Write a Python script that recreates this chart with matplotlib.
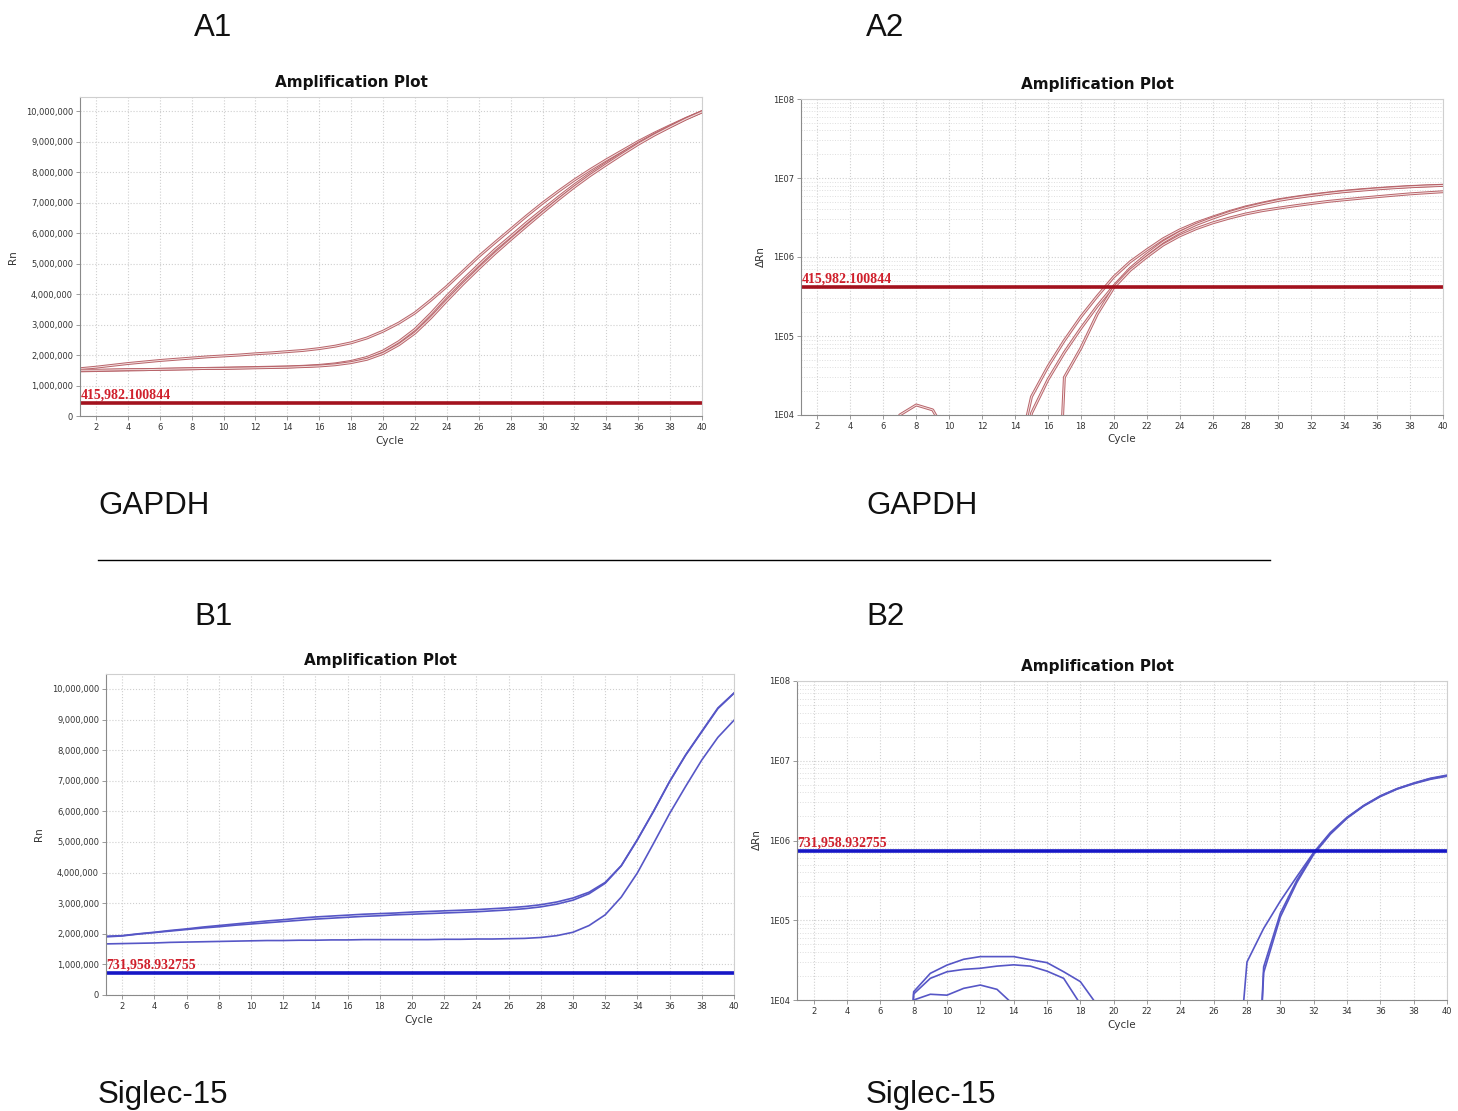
import matplotlib
matplotlib.use("Agg")
import matplotlib.pyplot as plt
import matplotlib.patheffects as pe
from matplotlib.lines import Line2D
from matplotlib.ticker import FuncFormatter, LogLocator, FixedLocator
import numpy as np

W, H = 1458, 1111

cycles = list(range(1, 41))

# GAPDH, Rn (millions)
a1_rn_1 = [1.55, 1.60, 1.66, 1.72, 1.77, 1.82, 1.86, 1.90, 1.94, 1.97,
           2.00, 2.04, 2.07, 2.11, 2.15, 2.21, 2.29, 2.40, 2.56, 2.78,
           3.05, 3.38, 3.80, 4.25, 4.74, 5.23, 5.68, 6.12, 6.56, 6.98,
           7.37, 7.74, 8.08, 8.40, 8.70, 9.00, 9.27, 9.52, 9.76, 9.98]
a1_rn_2 = [1.48, 1.49, 1.50, 1.51, 1.52, 1.53, 1.54, 1.55, 1.56, 1.57,
           1.58, 1.59, 1.60, 1.61, 1.63, 1.66, 1.71, 1.79, 1.92, 2.13,
           2.44, 2.84, 3.36, 3.93, 4.46, 4.96, 5.45, 5.89, 6.34, 6.76,
           7.18, 7.58, 7.95, 8.29, 8.62, 8.94, 9.23, 9.49, 9.75, 9.98]
a1_rn_3 = [1.50, 1.50, 1.51, 1.52, 1.52, 1.53, 1.54, 1.55, 1.56, 1.56,
           1.57, 1.58, 1.59, 1.60, 1.62, 1.64, 1.68, 1.75, 1.86, 2.05,
           2.34, 2.72, 3.22, 3.78, 4.32, 4.83, 5.32, 5.78, 6.23, 6.67,
           7.10, 7.51, 7.89, 8.24, 8.58, 8.91, 9.21, 9.48, 9.74, 9.97]

# GAPDH, delta Rn (values below 1E04 fall outside the plot)
a2_drn_1 = [1, 1, 1, 1, 1, 1, 1, 1, 1, 1,
            1, 1, 1, 2e3, 17e3, 41e3, 88e3, 175e3, 320e3, 560e3,
            870e3, 1.23e6, 1.7e6, 2.2e6, 2.7e6, 3.2e6, 3.75e6, 4.3e6, 4.8e6, 5.3e6,
            5.7e6, 6.1e6, 6.45e6, 6.8e6, 7.1e6, 7.35e6, 7.6e6, 7.8e6, 7.95e6, 8.1e6]
a2_drn_2 = [1, 1, 1, 1, 1, 1, 1, 1, 1, 1,
            1, 1, 1, 500, 10.5e3, 28e3, 62e3, 125e3, 240e3, 430e3,
            720e3, 1.08e6, 1.55e6, 2.05e6, 2.58e6, 3.1e6, 3.65e6, 4.2e6, 4.7e6, 5.2e6,
            5.62e6, 6.0e6, 6.38e6, 6.72e6, 7.0e6, 7.28e6, 7.52e6, 7.74e6, 7.92e6, 8.05e6]
a2_drn_3 = [1, 1, 1, 1, 1, 3e3, 1.0e4, 1.34e4, 1.16e4, 5e3,
            1, 1, 1, 1, 1, 1, 30e3, 70e3, 190e3, 410e3,
            680e3, 1.0e6, 1.42e6, 1.85e6, 2.28e6, 2.7e6, 3.1e6, 3.5e6, 3.85e6, 4.15e6,
            4.45e6, 4.75e6, 5.05e6, 5.3e6, 5.55e6, 5.8e6, 6.05e6, 6.3e6, 6.5e6, 6.7e6]

# Siglec-15, Rn (millions)
b1_rn_1 = [1.92, 1.94, 2.00, 2.05, 2.11, 2.16, 2.22, 2.27, 2.32, 2.37,
           2.42, 2.46, 2.51, 2.55, 2.58, 2.61, 2.64, 2.66, 2.68, 2.71,
           2.73, 2.75, 2.77, 2.79, 2.82, 2.85, 2.89, 2.95, 3.04, 3.17,
           3.36, 3.68, 4.23, 5.08, 6.00, 6.98, 7.85, 8.62, 9.38, 9.87]
b1_rn_2 = [1.90, 1.93, 1.99, 2.04, 2.09, 2.14, 2.19, 2.23, 2.28, 2.32,
           2.36, 2.40, 2.44, 2.48, 2.51, 2.54, 2.57, 2.59, 2.62, 2.64,
           2.66, 2.68, 2.70, 2.72, 2.75, 2.78, 2.82, 2.88, 2.97, 3.10,
           3.31, 3.65, 4.22, 5.07, 6.00, 6.97, 7.84, 8.60, 9.36, 9.86]
b1_rn_3 = [1.67, 1.68, 1.69, 1.70, 1.72, 1.73, 1.74, 1.75, 1.76, 1.77,
           1.78, 1.78, 1.79, 1.79, 1.80, 1.80, 1.81, 1.81, 1.81, 1.81,
           1.81, 1.82, 1.82, 1.83, 1.83, 1.84, 1.85, 1.88, 1.94, 2.05,
           2.27, 2.62, 3.20, 3.99, 4.95, 5.93, 6.82, 7.68, 8.42, 8.98]

# Siglec-15, delta Rn
b2_drn_1 = [1, 1, 1, 1, 1, 1, 1, 12.7e3, 21.6e3, 27.4e3,
            32.4e3, 35e3, 35e3, 35e3, 32e3, 29.4e3, 22.6e3, 17e3, 8.7e3, 1,
            1, 1, 1, 1, 1, 1, 100, 30e3, 79e3, 174e3,
            355e3, 708e3, 1.26e6, 1.95e6, 2.75e6, 3.63e6, 4.47e6, 5.25e6, 6.03e6, 6.6e6]
b2_drn_2 = [1, 1, 1, 1, 1, 1, 1, 11.9e3, 18.7e3, 22.6e3,
            24.2e3, 25e3, 26.6e3, 27.6e3, 26.6e3, 23e3, 18.7e3, 8.9e3, 1, 1,
            1, 1, 1, 1, 1, 1, 1, 1, 26e3, 122e3,
            320e3, 690e3, 1.22e6, 1.93e6, 2.72e6, 3.6e6, 4.45e6, 5.2e6, 5.95e6, 6.5e6]
b2_drn_3 = [1, 1, 1, 1, 1, 1, 1, 1.0e4, 11.8e3, 11.5e3,
            14e3, 15.4e3, 13.6e3, 8.7e3, 1, 1, 1, 1, 1, 1,
            1, 1, 1, 1, 1, 1, 1, 1, 22e3, 110e3,
            300e3, 670e3, 1.2e6, 1.9e6, 2.7e6, 3.55e6, 4.4e6, 5.15e6, 5.85e6, 6.4e6]

thr_gapdh = 415982.100844
thr_siglec = 731958.932755

red_line = '#b8646a'
red_thr = '#a3121e'
blue_line = '#5656c6'
blue_thr = '#1616c6'
label_red = '#d0202c'


def box(left, top, right, bottom):
    return [left / W, 1 - bottom / H, (right - left) / W, (bottom - top) / H]


def fpos(x, y):
    return x / W, 1 - y / H


def style_axes(ax, log=False):
    ax.set_xlim(1, 40)
    ax.set_xticks(range(2, 41, 2))
    for s in ['left', 'bottom']:
        ax.spines[s].set_color('#8a8a8a')
    for s in ['top', 'right']:
        ax.spines[s].set_color('#cfcfcf')
    ax.tick_params(axis='both', labelsize=6, colors='#8a8a8a', labelcolor='#333333',
                   length=3, width=0.6, pad=2)
    ax.tick_params(axis='both', which='minor', length=0)
    ax.grid(True, which='major', linestyle=':', color='#cfcfcf', linewidth=0.8)
    if log:
        ax.set_yscale('log')
        ax.set_ylim(1e4, 1e8)
        ax.yaxis.set_major_locator(FixedLocator([1e4, 1e5, 1e6, 1e7, 1e8]))
        ax.yaxis.set_minor_locator(LogLocator(base=10, subs=np.arange(2, 10)))
        ax.yaxis.set_major_formatter(FuncFormatter(lambda v, p: '1E%02d' % round(np.log10(v))))
        ax.grid(True, which='minor', axis='y', linestyle=':', color='#dedede', linewidth=0.7)
    else:
        ax.set_yticks(np.arange(0, 10.01e6, 1e6))
        ax.yaxis.set_major_formatter(FuncFormatter(lambda v, p: '{:,.0f}'.format(v)))


def red_curve(ax, x, y):
    ax.plot(x, y, color='#f4e2e2', linewidth=0.7,
            path_effects=[pe.Stroke(linewidth=2.1, foreground=red_line), pe.Normal()])


def thr_label(ax, value, factor):
    ax.text(1.03, value * factor, '{:,.6f}'.format(value), color=label_red,
            family='Liberation Serif', fontweight='bold', fontsize=10, va='bottom')


fig = plt.figure(figsize=(W / 100, H / 100), dpi=100)

panels = [
    ('A1', box(80, 97, 702, 416), False, (351, 82), (390, 441), 'Rn', (13, 257)),
    ('A2', box(801, 99, 1443, 415), True, (1097, 84), (1122, 439), 'ΔRn', (761, 257)),
    ('B1', box(106, 674, 734, 995), False, (380, 660), (419, 1020), 'Rn', (39, 834)),
    ('B2', box(797, 681, 1447, 1000), True, (1097, 666), (1122, 1025), 'ΔRn', (757, 840)),
]

axes = {}
for name, rect, log, tpos, xlpos, ylab, ylpos in panels:
    ax = fig.add_axes(rect)
    style_axes(ax, log)
    axes[name] = ax
    fig.text(*fpos(*tpos), 'Amplification Plot', ha='center', va='center',
             fontsize=11, fontweight='bold', color='#111111')
    fig.text(*fpos(*xlpos), 'Cycle', ha='center', va='center', fontsize=7.5, color='#333333')
    fig.text(*fpos(*ylpos), ylab, ha='center', va='center', rotation=90,
             fontsize=7.5, color='#333333')

# A1
ax = axes['A1']
ax.set_ylim(0, 10.46e6)
for s in [a1_rn_1, a1_rn_2, a1_rn_3]:
    red_curve(ax, cycles, np.array(s) * 1e6)
ax.axhline(thr_gapdh, color=red_thr, linewidth=2.6)
thr_label(ax, thr_gapdh, 1.15)

# A2
ax = axes['A2']
for s in [a2_drn_1, a2_drn_2, a2_drn_3]:
    red_curve(ax, cycles, s)
ax.axhline(thr_gapdh, color=red_thr, linewidth=2.6)
thr_label(ax, thr_gapdh, 1.05)

# B1
ax = axes['B1']
ax.set_ylim(0, 10.49e6)
for s in [b1_rn_1, b1_rn_2, b1_rn_3]:
    ax.plot(cycles, np.array(s) * 1e6, color=blue_line, linewidth=1.2)
ax.axhline(thr_siglec, color=blue_thr, linewidth=2.6)
thr_label(ax, thr_siglec, 1.07)

# B2
ax = axes['B2']
for s in [b2_drn_1, b2_drn_2, b2_drn_3]:
    ax.plot(cycles, s, color=blue_line, linewidth=1.2)
ax.axhline(thr_siglec, color=blue_thr, linewidth=2.6)
thr_label(ax, thr_siglec, 1.05)

# panel captions
captions = [('A1', 194, 28), ('A2', 866, 28), ('GAPDH', 98, 506), ('GAPDH', 866, 506),
            ('B1', 194, 617), ('B2', 866, 617), ('Siglec-15', 98, 1095), ('Siglec-15', 866, 1095)]
for txt, x, y in captions:
    fig.text(*fpos(x, y), txt, ha='left', va='center', fontsize=22.5,
             family='Liberation Sans', color='#111111')

x0, y0 = fpos(98, 560)
x1, _ = fpos(1270, 560)
fig.add_artist(Line2D([x0, x1], [y0, y0], color='black', linewidth=1))

fig.savefig('out.png', dpi=100)
